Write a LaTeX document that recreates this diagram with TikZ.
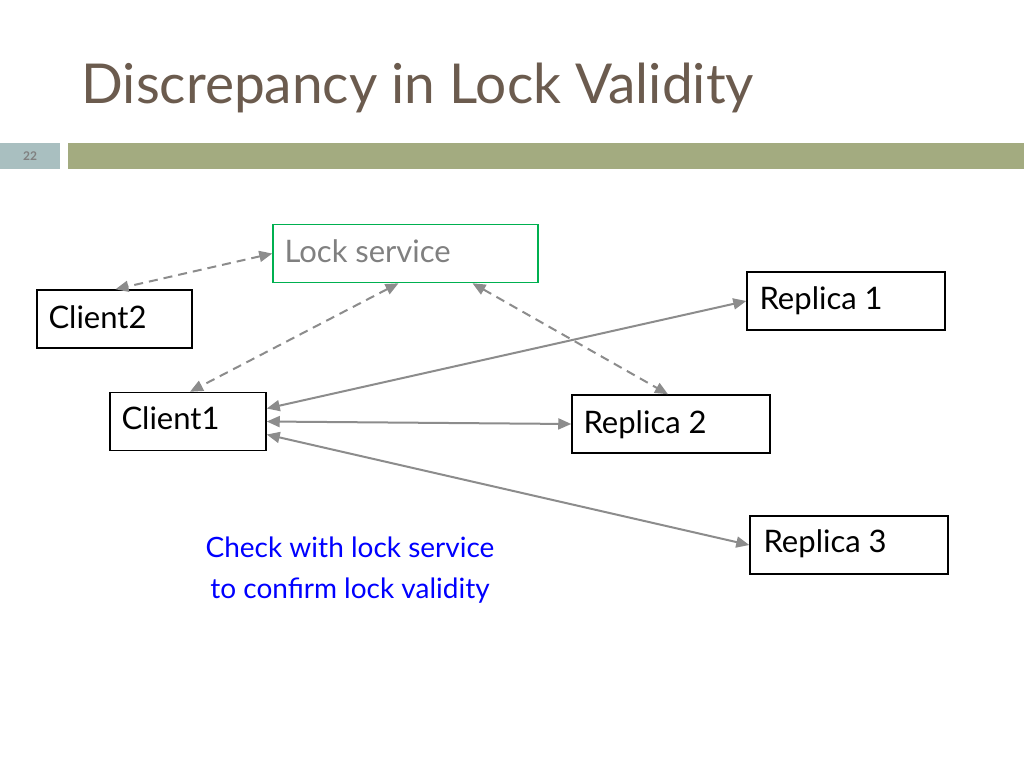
\documentclass[tikz,border=0pt]{standalone}
\usepackage{fontspec}
\setmainfont{Lato}
\usetikzlibrary{arrows.meta}
\definecolor{titlec}{HTML}{6B5B4E}
\definecolor{barg}{HTML}{A3AB80}
\definecolor{barb}{HTML}{A9BFC0}
\definecolor{lockg}{HTML}{00B050}
\definecolor{arr}{HTML}{8C8C8C}
\begin{document}
\begin{tikzpicture}[x=1pt,y=-1pt,
  box/.style={draw=black,line width=1.5pt,minimum height=58pt,inner sep=0pt},
  lab/.style={font=\fontsize{31}{33}\selectfont,anchor=north west},
  con/.style={arr,line width=2pt,{Triangle[length=13pt,width=11pt]}-{Triangle[length=13pt,width=11pt]}},
  dcon/.style={con,dash pattern=on 9pt off 6pt}]
\useasboundingbox[fill=white] (0,0) rectangle (1024,768);
\node[anchor=base west,text=titlec,font=\fontsize{55}{57}\selectfont] (title) at (78,103) {Discrepancy in Lock Validity};
\fill[barb] (0,143) rectangle (60,169);
\node[font=\fontsize{12}{12}\selectfont\bfseries,text=gray] (num) at (30,156) {22};
\fill[barg] (68,143) rectangle (1024,169);
\node[box,draw=lockg,minimum width=265pt] (lock) at (405.5,253.5) {};
\node[lab,text=gray] (lockt) at (281,236) {Lock service};
\node[box,minimum width=155pt] (c2) at (114.5,319) {};
\node[lab] at (45,302) {Client2};
\node[box,minimum width=156pt] (c1) at (188,421.5) {};
\node[lab] at (118,403) {Client1};
\node[box,minimum width=198pt] (r1) at (846,301) {};
\node[lab] at (756,283) {Replica 1};
\node[box,minimum width=198pt] (r2) at (671,424) {};
\node[lab] at (580,407) {Replica 2};
\node[box,minimum width=198pt] (r3) at (849,545) {};
\node[lab] at (760,526) {Replica 3};
\node[text=blue,align=center,font=\fontsize{28}{41}\selectfont] (note) at (350,570) {Check with lock service\\to confirm lock validity};
\draw[dcon] (lock.west) -- ([xshift=1pt]c2.north);
\draw[dcon] ([xshift=-7pt]lock.south) -- ([xshift=2pt]c1.north);
\draw[dcon] ([xshift=67pt]lock.south) -- ([xshift=-3pt]r2.north);
\draw[con] ([yshift=13pt]c1.east) -- (r1.west);
\draw[con] (c1.east) -- (r2.west);
\draw[con] ([yshift=-13pt]c1.east) -- (r3.west);
\end{tikzpicture}
\end{document}
